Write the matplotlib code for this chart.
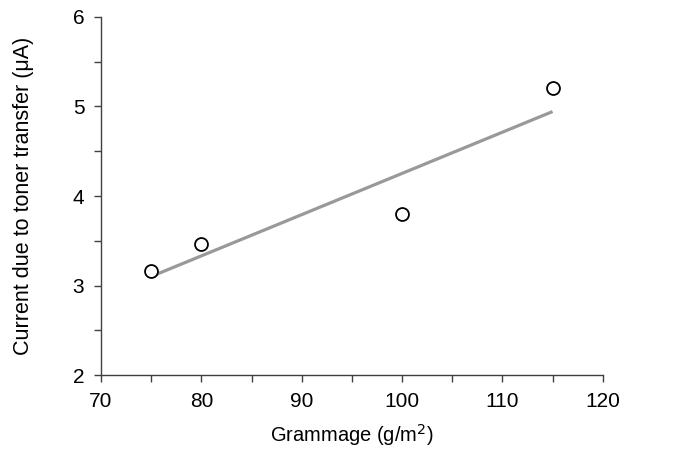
import numpy as np
import matplotlib.pyplot as plt
from matplotlib.ticker import MultipleLocator

plt.rcParams['font.family'] = ['Liberation Sans', 'DejaVu Sans']

# Measured points
grammage = [75, 80, 100, 115]
current = [3.16, 3.46, 3.80, 5.21]

# Least-squares line through the measurements
slope, intercept = np.polyfit(grammage, current, 1)
fit_x = np.array([min(grammage), max(grammage)])
fit_y = slope * fit_x + intercept

fig = plt.figure(figsize=(6.92, 4.57), dpi=100)
ax = fig.add_axes([0.146, 0.179, 0.725, 0.784])

ax.plot(fit_x, fit_y, color='#999999', lw=2.3, solid_capstyle='butt', zorder=2)
ax.plot(grammage, current, 'o', mfc='white', mec='black', mew=1.3, ms=9.3, zorder=3)

ax.set_xlim(70, 120)
ax.set_ylim(2, 6)
ax.xaxis.set_major_locator(MultipleLocator(10))
ax.xaxis.set_minor_locator(MultipleLocator(5))
ax.yaxis.set_major_locator(MultipleLocator(1))
ax.yaxis.set_minor_locator(MultipleLocator(0.5))

for side in ['top', 'right']:
    ax.spines[side].set_visible(False)
for side in ['left', 'bottom']:
    ax.spines[side].set_color('#404040')
    ax.spines[side].set_linewidth(1.0)

ax.tick_params(which='both', direction='out', length=5, width=1.0, color='#404040',
               labelsize=15, pad=7)

ax.set_xlabel('Grammage (g/m$^2$)', fontsize=14.5, labelpad=8)
ax.set_ylabel('Current due to toner transfer (μA)', fontsize=15.5, labelpad=28)

fig.savefig('out.png', dpi=100)
